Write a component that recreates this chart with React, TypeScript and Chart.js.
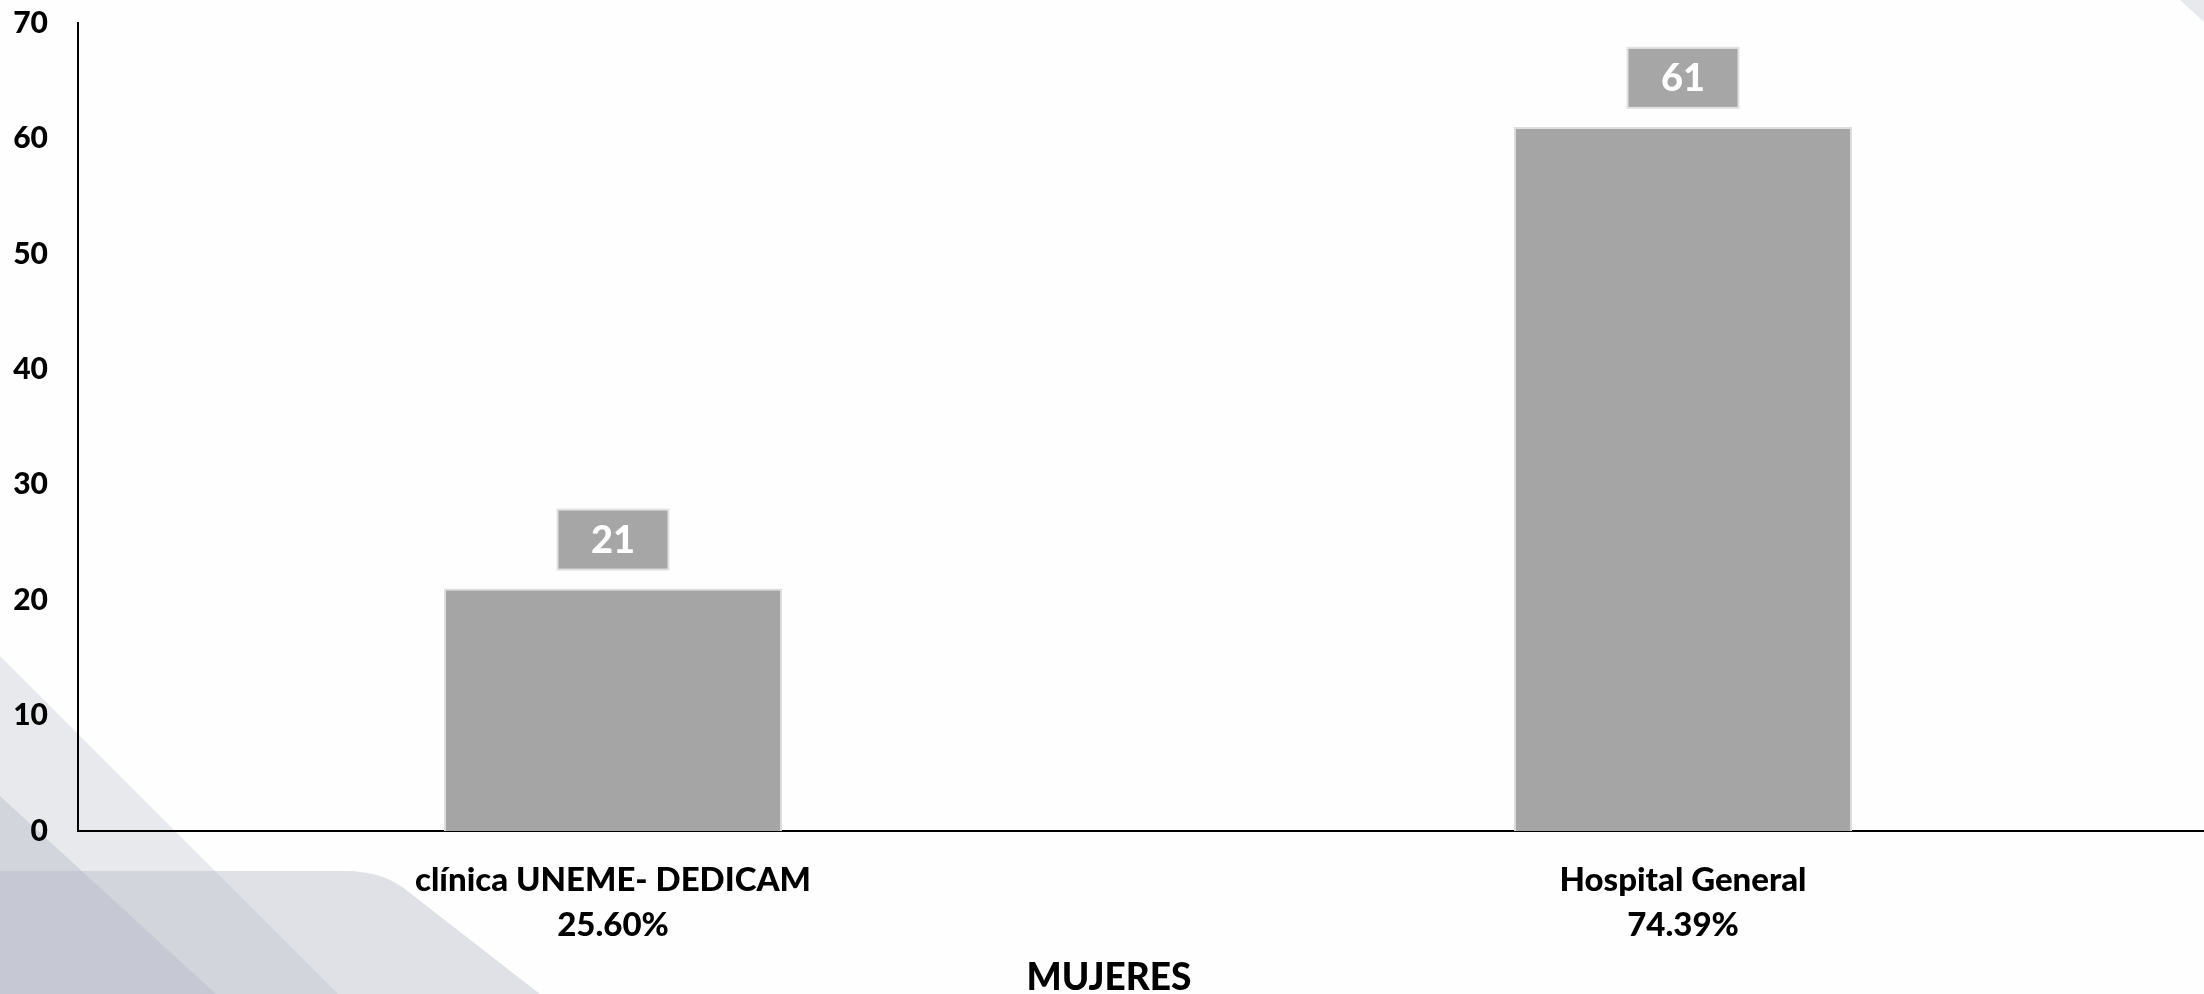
import React, { useEffect, useRef } from "react";
import { Chart, registerables } from "chart.js";

Chart.register(...registerables);

// ---- data ----
const categories: string[][] = [
  ["clínica UNEME- DEDICAM", "25.60%"],
  ["Hospital General", "74.39%"],
];
const values: number[] = [21, 61];
const yTicks: number[] = [0, 10, 20, 30, 40, 50, 60, 70];
const axisTitle = "MUJERES";

const FONT = "Lato, 'Open Sans', sans-serif";
const CANVAS_W = 2218;
const CANVAS_H = 994;

const backgroundPlugin = {
  id: "slideBackground",
  beforeDraw(chart: any) {
    const ctx = chart.ctx as CanvasRenderingContext2D;
    ctx.save();
    ctx.fillStyle = "#fefefe";
    ctx.fillRect(0, 0, chart.width, chart.height);
    const base = "rgba(180,187,198,";
    // light diagonal band
    ctx.fillStyle = base + "0.3)";
    ctx.beginPath();
    ctx.moveTo(0, 656);
    ctx.lineTo(338, 994);
    ctx.lineTo(0, 994);
    ctx.closePath();
    ctx.fill();
    // rounded shape
    ctx.fillStyle = base + "0.42)";
    ctx.beginPath();
    ctx.moveTo(0, 871);
    ctx.lineTo(345, 871);
    ctx.quadraticCurveTo(385, 871, 410, 893);
    ctx.lineTo(540, 994);
    ctx.lineTo(0, 994);
    ctx.closePath();
    ctx.fill();
    // dark band
    ctx.fillStyle = base + "0.42)";
    ctx.beginPath();
    ctx.moveTo(0, 796);
    ctx.lineTo(216, 994);
    ctx.lineTo(0, 994);
    ctx.closePath();
    ctx.fill();
    // top-right corner triangle
    ctx.fillStyle = "#e8e9ec";
    ctx.beginPath();
    ctx.moveTo(2180, 0);
    ctx.lineTo(2204, 0);
    ctx.lineTo(2204, 22);
    ctx.closePath();
    ctx.fill();
    ctx.restore();
  },
};

const valueBoxPlugin = {
  id: "valueBoxes",
  afterDatasetsDraw(chart: any) {
    const ctx = chart.ctx as CanvasRenderingContext2D;
    const meta = chart.getDatasetMeta(0);
    const data = chart.data.datasets[0].data as number[];
    ctx.save();
    meta.data.forEach((bar: any, i: number) => {
      const { x, y } = bar.getProps(["x", "y"], true);
      const w = 111;
      const h = 60;
      const bottom = y - 19;
      ctx.fillStyle = "#a6a6a6";
      ctx.fillRect(x - w / 2, bottom - h, w, h);
      ctx.strokeStyle = "#e2e2e2";
      ctx.lineWidth = 2;
      ctx.strokeRect(x - w / 2, bottom - h, w, h);
      ctx.fillStyle = "#ffffff";
      ctx.font = `900 38px ${FONT}`;
      ctx.textAlign = "center";
      ctx.textBaseline = "middle";
      ctx.fillText(String(data[i]), x, bottom - h / 2 + 1);
    });
    ctx.restore();
  },
};

export default function App() {
  const canvasRef = useRef<HTMLCanvasElement | null>(null);

  useEffect(() => {
    const canvas = canvasRef.current;
    if (!canvas) return;
    const chart = new Chart(canvas, {
      type: "bar",
      data: {
        labels: categories,
        datasets: [
          {
            data: values,
            backgroundColor: "#a5a5a5",
            borderColor: "#dedede",
            borderWidth: 2,
            barPercentage: 0.316,
            categoryPercentage: 1,
          },
        ],
      },
      options: {
        responsive: false,
        animation: false,
        devicePixelRatio: 1,
        layout: { padding: { top: 23, left: 0, right: 0, bottom: 0 } },
        plugins: {
          legend: { display: false },
          tooltip: { enabled: false },
          title: {
            display: true,
            text: axisTitle,
            position: "bottom",
            color: "#000000",
            font: { family: FONT, size: 37, weight: "900", lineHeight: 1 },
            padding: { top: 3, bottom: -3 },
          },
        },
        scales: {
          x: {
            grid: { display: false, drawTicks: false },
            border: { display: true, color: "#000000", width: 2 },
            ticks: {
              color: "#000000",
              font: { family: FONT, size: 33, weight: "900", lineHeight: 1.36 },
              padding: 27,
              maxRotation: 0,
              autoSkip: false,
            },
            afterFit: (s: any) => {
              s.height = 126;
            },
          },
          y: {
            min: yTicks[0],
            max: yTicks[yTicks.length - 1],
            ticks: {
              stepSize: yTicks[1] - yTicks[0],
              color: "#000000",
              font: { family: FONT, size: 30, weight: "900" },
              padding: 30,
            },
            grid: { display: false, drawTicks: false },
            border: { display: true, color: "#000000", width: 2 },
            afterFit: (s: any) => {
              s.width = 78;
              s.paddingTop = 0;
              s.paddingBottom = 0;
            },
          },
        },
      },
      plugins: [backgroundPlugin, valueBoxPlugin],
    });
    return () => chart.destroy();
  }, []);

  return (
    <div
      style={{
        position: "fixed",
        left: 0,
        top: 0,
        width: 2204,
        height: 994,
        overflow: "hidden",
        background: "#fefefe",
      }}
    >
      <canvas
        ref={canvasRef}
        width={CANVAS_W}
        height={CANVAS_H}
        style={{ display: "block", width: CANVAS_W, height: CANVAS_H }}
      />
    </div>
  );
}
